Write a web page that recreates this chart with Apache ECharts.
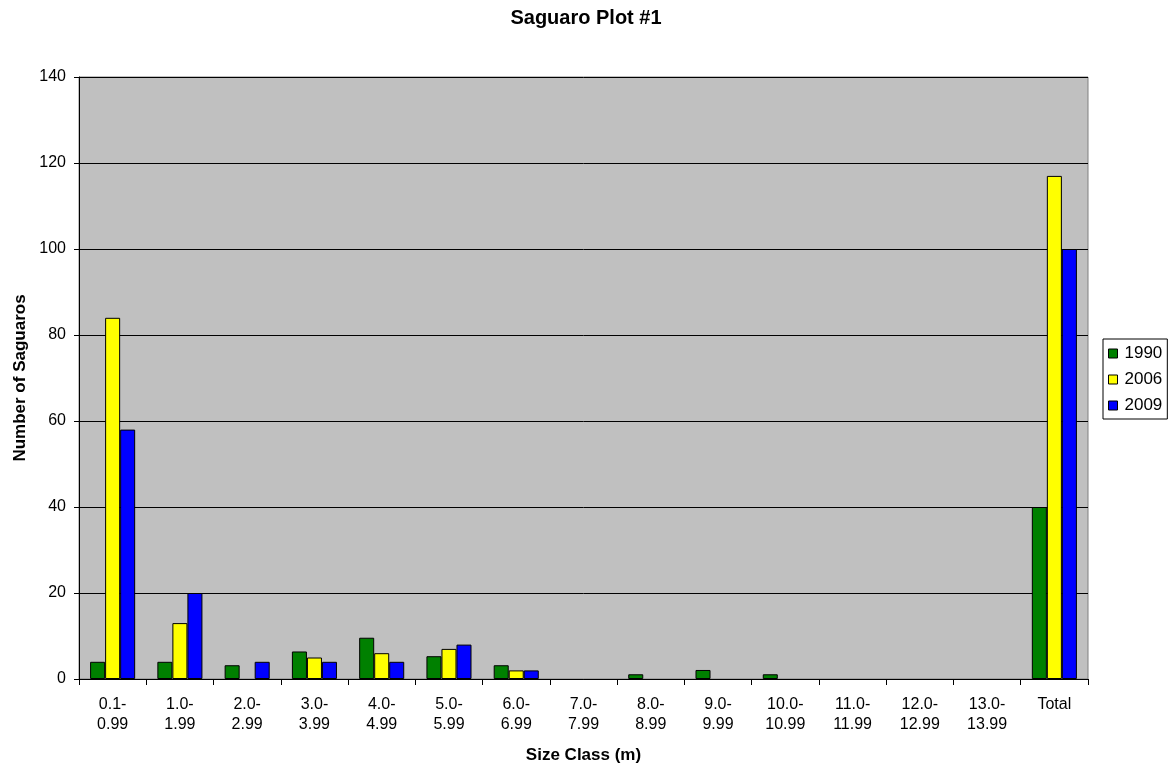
<!DOCTYPE html>
<html>
<head>
<meta charset="utf-8">
<script src="https://cdn.jsdelivr.net/npm/echarts@6/dist/echarts.min.js"></script>
<style>
  html, body { margin: 0; padding: 0; background: #fff; }
  #chart { width: 1172px; height: 771px; }
</style>
</head>
<body>
<div id="chart"></div>
<script>
const categories = ['0.1-\n0.99', '1.0-\n1.99', '2.0-\n2.99', '3.0-\n3.99', '4.0-\n4.99',
  '5.0-\n5.99', '6.0-\n6.99', '7.0-\n7.99', '8.0-\n8.99', '9.0-\n9.99', '10.0-\n10.99',
  '11.0-\n11.99', '12.0-\n12.99', '13.0-\n13.99', 'Total']
const y1990 = [4, 4, 3.2, 6.4, 9.6, 5.3, 3.2, 0, 1.1, 2.1, 1.1, 0, 0, 0, 40]
const y2006 = [84, 13, 0, 5, 6, 7, 2, 0, 0, 0, 0, 0, 0, 0, 117]
const y2009 = [58, 20, 4, 4, 4, 8, 2, 0, 0, 0, 0, 0, 0, 0, 100]
const yTicks = { min: 0, max: 140, interval: 20 }

const font = 'Liberation Sans, Arial, sans-serif'

// zero bars are not drawn in the original, so leave them empty
function barSeries (name, data, color) {
  return {
    name,
    type: 'bar',
    data: data.map(v => (v === 0 ? '-' : v)),
    barGap: '0%',
    barCategoryGap: '33%',
    itemStyle: { color, borderColor: '#000', borderWidth: 1 }
  }
}

const chart = echarts.init(document.getElementById('chart'))
chart.setOption({
  animation: false,
  textStyle: { fontFamily: font },
  title: {
    text: 'Saguaro Plot #1',
    left: 'center',
    top: 3,
    textStyle: { fontSize: 20, fontWeight: 'bold', color: '#000', fontFamily: font }
  },
  legend: {
    orient: 'vertical',
    left: 1103,
    top: 339,
    itemWidth: 9,
    itemHeight: 9,
    itemGap: 9,
    padding: [6, 5, 5, 5],
    borderColor: '#000',
    borderWidth: 1,
    icon: 'rect',
    itemStyle: { borderColor: '#000', borderWidth: 1 },
    textStyle: { fontSize: 17, color: '#000', fontFamily: font, padding: [0, 0, 0, 2] },
    data: ['1990', '2006', '2009']
  },
  grid: {
    left: 79,
    right: 84,
    top: 77,
    bottom: 92,
    show: true,
    backgroundColor: '#c0c0c0',
    borderColor: '#808080',
    borderWidth: 1
  },
  xAxis: {
    type: 'category',
    data: categories,
    name: 'Size Class (m)',
    nameLocation: 'middle',
    nameGap: 68,
    nameTextStyle: { fontSize: 17, fontWeight: 'bold', color: '#000', fontFamily: font },
    axisLine: { lineStyle: { color: '#000' } },
    axisTick: { show: true, alignWithLabel: false, length: 6, lineStyle: { color: '#000' } },
    axisLabel: { fontSize: 16, color: '#000', lineHeight: 20, margin: 16, interval: 0, fontFamily: font }
  },
  yAxis: {
    type: 'value',
    min: yTicks.min,
    max: yTicks.max,
    interval: yTicks.interval,
    name: 'Number of Saguaros',
    nameLocation: 'middle',
    nameGap: 34,
    nameTextStyle: { fontSize: 17, fontWeight: 'bold', color: '#000', fontFamily: font },
    axisLine: { show: true, lineStyle: { color: '#000' } },
    axisTick: { show: true, length: 5, lineStyle: { color: '#000' } },
    axisLabel: { fontSize: 16, color: '#000', margin: 13, fontFamily: font },
    splitLine: { lineStyle: { color: '#000', width: 1 } }
  },
  series: [
    barSeries('1990', y1990, '#008000'),
    barSeries('2006', y2006, '#ffff00'),
    barSeries('2009', y2009, '#0000ff')
  ]
})
</script>
</body>
</html>
